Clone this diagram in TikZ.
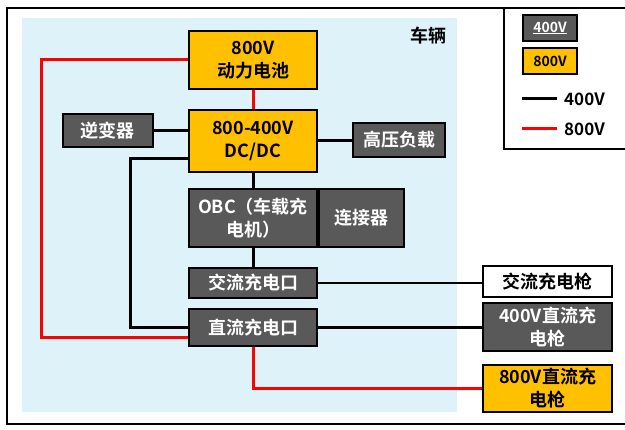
\documentclass[tikz,border=0pt]{standalone}
\usepackage{fontspec}
\setmainfont{Noto Sans CJK SC}[BoldFont={Noto Sans CJK SC Bold}]
\usetikzlibrary{calc}
\definecolor{bgblue}{HTML}{DEF2FA}
\definecolor{boxgray}{HTML}{595959}
\definecolor{boxorange}{HTML}{FFC000}
\definecolor{linered}{HTML}{FF0000}
\tikzset{
  box/.style={draw=black, line width=1.8pt, inner sep=1pt, align=center,
    font=\fontsize{18}{23}\selectfont\bfseries},
  graybox/.style={box, fill=boxgray, text=white},
  orangebox/.style={box, fill=boxorange, text=black},
  whitebox/.style={box, fill=white, text=black},
  wire/.style={line width=3pt, black},
  redwire/.style={line width=3pt, linered},
  legtext/.style={font=\fontsize{17}{19}\selectfont\bfseries, anchor=west, inner sep=0pt}
}
\begin{document}
\begin{tikzpicture}[x=1pt,y=-1pt]
\useasboundingbox (0,0) rectangle (625,430);
\fill[white] (0,0) rectangle (625,430);
% outer frame
\draw[line width=1.5pt] (7,8) rectangle (640,424);
% vehicle area
\fill[bgblue] (22,18) rectangle (457,412);
\node[font=\fontsize{18}{20}\selectfont\bfseries, anchor=east, inner sep=0pt] (veh) at (447,36) {车辆};
% nodes
\node[orangebox, minimum width=128pt, minimum height=58pt] (bat) at (253,60) {800V\\动力电池};
\node[orangebox, minimum width=128pt, minimum height=62pt] (dcdc) at (253,141) {800-400V\\DC/DC};
\node[graybox, minimum width=90pt, minimum height=33pt] (inv) at (108,130.5) {逆变器};
\node[graybox, minimum width=92pt, minimum height=34pt] (load) at (399,140) {高压负载};
\node[graybox, minimum width=128pt, minimum height=58pt] (obc) at (253,218) {OBC（车载充\\电机）};
\node[graybox, minimum width=85pt, minimum height=58pt, anchor=west] (conn) at (obc.east) {连接器};
\node[graybox, minimum width=128pt, minimum height=30pt] (acport) at (253,283) {交流充电口};
\node[graybox, minimum width=128pt, minimum height=37pt] (dcport) at (253,327.5) {直流充电口};
\node[whitebox, minimum width=129pt, minimum height=31pt] (acgun) at (547.5,281.5) {交流充电枪};
\node[graybox, minimum width=129pt, minimum height=48pt] (gun400) at (547.5,327) {400V直流充\\电枪};
\node[orangebox, minimum width=129pt, minimum height=47pt] (gun800) at (547.5,388.5) {800V直流充\\电枪};
% helper coordinates
\coordinate (cR) at (41,200);
\coordinate (cB) at (130,200);
% connectors
\draw[redwire] (bat.west) -| (cR) |- ([yshift=-10.5pt]dcport.west);
\draw[redwire] (bat.south) -- (dcdc.north);
\draw[redwire] (dcport.south) |- (gun800.west);
\draw[wire] (inv.east) -- (inv.east -| dcdc.west);
\draw[wire] ([yshift=-18pt]dcdc.west) -| (cB) |- (dcport.west);
\draw[wire] (dcdc.east) -- (dcdc.east -| load.west);
\draw[wire] (dcdc.south) -- (obc.north);
\draw[wire] (obc.south) -- (acport.north);
\draw[wire, line width=2.5pt] (acport.east) -- (acport.east -| acgun.west);
\draw[wire, line width=2.5pt] (dcport.east) -- (dcport.east -| gun400.west);
% legend
\draw[line width=1.5pt] (504,8) rectangle (640,149);
\node[graybox, font=\fontsize{14}{16}\selectfont\bfseries, minimum width=54pt, minimum height=26pt] (lg400) at (550,28) {\underline{400V}};
\node[orangebox, font=\fontsize{14}{16}\selectfont\bfseries, minimum width=54pt, minimum height=26pt] (lg800) at (550,61) {800V};
\coordinate (lb1) at (522,99);
\coordinate (lb2) at (557,99);
\coordinate (lr1) at (522,129);
\coordinate (lr2) at (557,129);
\draw[wire] (lb1) -- (lb2);
\draw[redwire] (lr1) -- (lr2);
\node[legtext] (lt1) at (564,99) {400V};
\node[legtext] (lt2) at (564,129) {800V};
\end{tikzpicture}
\end{document}
